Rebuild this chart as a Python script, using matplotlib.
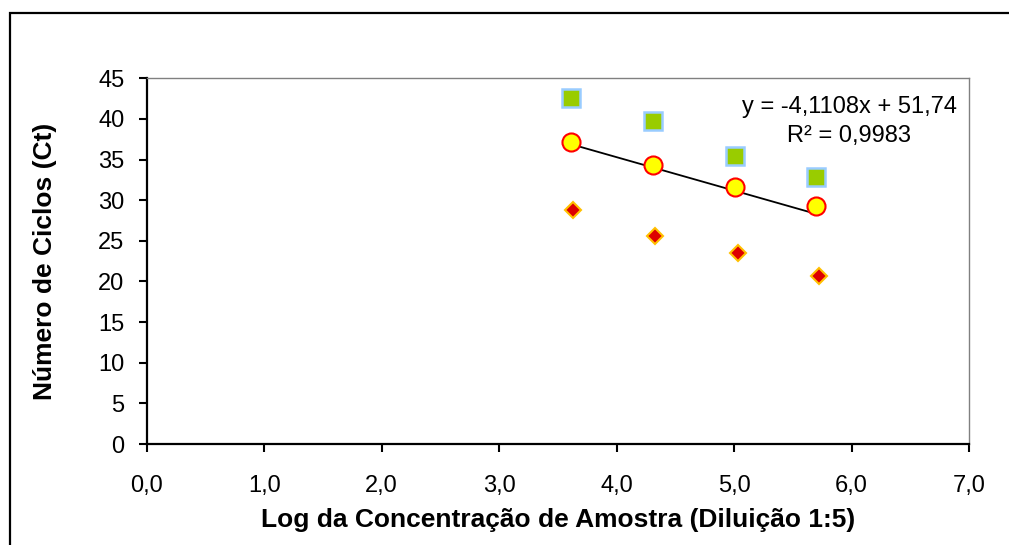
import numpy as np
import matplotlib
matplotlib.use('Agg')
import matplotlib.pyplot as plt
from matplotlib.patches import Rectangle

plt.rcParams['font.family'] = ['Liberation Sans', 'DejaVu Sans']

# Log of sample concentration for each dilution step (1:5)
log_conc = [3.61, 4.31, 5.01, 5.70]
log_conc_diamond = [3.63, 4.33, 5.03, 5.72]

# Ct values for the three series
ct_squares = [42.6, 39.7, 35.5, 32.8]
ct_circles = [37.2, 34.3, 31.6, 29.3]
ct_diamonds = [28.8, 25.6, 23.5, 20.7]

# Linear trendline reported on the chart
slope, intercept = -4.1108, 51.74
r2 = 0.9983

x_ticks = [0, 1, 2, 3, 4, 5, 6, 7]
y_ticks = [0, 5, 10, 15, 20, 25, 30, 35, 40, 45]

fig = plt.figure(figsize=(10.09, 5.45), dpi=100)
ax = fig.add_axes([0.1454, 0.1853, 0.8150, 0.6710])

ax.plot(log_conc, ct_squares, linestyle='none', marker='s', markersize=12.5,
        markerfacecolor='#99CC00', markeredgecolor='#99CCFF', markeredgewidth=1.8, zorder=3)
ax.plot(log_conc, ct_circles, linestyle='none', marker='o', markersize=13,
        markerfacecolor='#FFFF00', markeredgecolor='#FF0000', markeredgewidth=1.5, zorder=3)
ax.plot(log_conc_diamond, ct_diamonds, linestyle='none', marker='D', markersize=8.5,
        markerfacecolor='#DD0000', markeredgecolor='#FFC000', markeredgewidth=1.5, zorder=3)

# trendline drawn from the fitted equation over the data range
xt = np.array([min(log_conc), max(log_conc)])
ax.plot(xt, np.polyval([slope, intercept], xt), color='black', linewidth=1.3, zorder=2)

def br(v, nd):
    return f'{v:.{nd}f}'.replace('.', ',')

eq_text = f'y = {br(slope, 4)}x + {br(intercept, 2)}\nR² = {br(r2, 4)}'
ax.text(5.98, 39.7, eq_text, ha='center', va='center', fontsize=17,
        linespacing=1.45, multialignment='center')

ax.set_xlim(0, 7)
ax.set_ylim(0, 45)
ax.set_xticks(x_ticks)
ax.set_xticklabels([br(v, 1) for v in x_ticks])
ax.set_yticks(y_ticks)
ax.tick_params(axis='both', direction='out', length=6, width=1.5, labelsize=17)
ax.tick_params(axis='x', pad=16)
ax.tick_params(axis='y', pad=10)

for side in ['left', 'bottom']:
    ax.spines[side].set_linewidth(1.6)
    ax.spines[side].set_color('black')
for side in ['top', 'right']:
    ax.spines[side].set_linewidth(1.0)
    ax.spines[side].set_color('#808080')

ax.set_xlabel('Log da Concentração de Amostra (Diluição 1:5)', fontsize=19,
              fontweight='bold', labelpad=8)
ax.set_ylabel('Número de Ciclos (Ct)', fontsize=19, fontweight='bold', labelpad=30)

# outer chart border
fig.add_artist(Rectangle((10 / 1009, -0.2), 1.5, 0.2 + 1 - 12.7 / 545,
                         transform=fig.transFigure, fill=False,
                         edgecolor='black', linewidth=1.6, clip_on=False))

fig.savefig('out.png', dpi=100)
